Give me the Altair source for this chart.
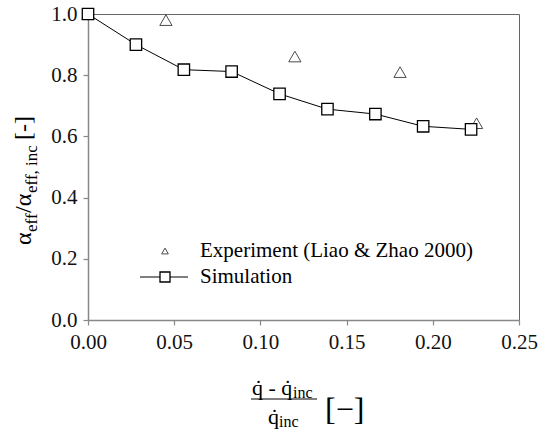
import altair as alt
import pandas as pd

# Simulation series
sim_x = [0.0, 0.0278, 0.0556, 0.0833, 0.1111, 0.1389, 0.1667, 0.1944, 0.2222]
sim_y = [1.0, 0.900, 0.818, 0.812, 0.739, 0.689, 0.673, 0.633, 0.623]
# Experiment (Liao & Zhao 2000)
exp_x = [0.0, 0.0452, 0.1200, 0.1810, 0.2254]
exp_y = [1.0, 0.980, 0.861, 0.810, 0.643]

x_ticks = [0.0, 0.05, 0.10, 0.15, 0.20, 0.25]
y_ticks = [0.0, 0.2, 0.4, 0.6, 0.8, 1.0]

FONT = "Times New Roman"
sim = pd.DataFrame({"x": sim_x, "y": sim_y})
exp = pd.DataFrame({"x": exp_x, "y": exp_y})
one = pd.DataFrame({"a": [0]})

xs = alt.Scale(domain=[0, 0.25], nice=False, zero=False)
ys = alt.Scale(domain=[0, 1.0], nice=False, zero=False)
axis_style = dict(
    title=None, grid=False, labelFont=FONT, labelFontSize=21, labelColor="#111",
    domainColor="#888", domainWidth=1.5, tickColor="#888", tickWidth=1.2,
    tickSize=5, labelPadding=6, labelFlush=False,
)
xax = alt.Axis(values=x_ticks, format=".2f", **axis_style)
yax = alt.Axis(values=y_ticks, format=".1f", **axis_style)

exp_pts = alt.Chart(exp).mark_point(
    shape="triangle-up", filled=False, stroke="black", strokeWidth=1, size=150
).encode(x=alt.X("x:Q", scale=xs, axis=xax), y=alt.Y("y:Q", scale=ys, axis=yax))

sim_line = alt.Chart(sim).mark_line(color="black", strokeWidth=1).encode(
    x=alt.X("x:Q", scale=xs), y=alt.Y("y:Q", scale=ys)
)
sim_pts = alt.Chart(sim).mark_point(
    shape="square", filled=True, fill="white", stroke="black", strokeWidth=1.3, size=130, opacity=1
).encode(x=alt.X("x:Q", scale=xs), y=alt.Y("y:Q", scale=ys))

def txt(s, x, y, size=20, angle=0, align="left", baseline="alphabetic"):
    kw = dict(font=FONT, fontSize=size, align=align, baseline=baseline)
    if angle:
        kw["angle"] = angle
    return alt.Chart(one).mark_text(**kw).encode(
        x=alt.value(x), y=alt.value(y), text=alt.value(s)
    )

# legend
leg_tri = alt.Chart(one).mark_point(
    shape="triangle-up", filled=False, stroke="black", strokeWidth=1, size=45
).encode(x=alt.value(77), y=alt.value(237))
leg_line = alt.Chart(one).mark_rule(color="black", strokeWidth=1).encode(
    x=alt.value(52), x2=alt.value(100), y=alt.value(263)
)
leg_sq = alt.Chart(one).mark_point(
    shape="square", filled=True, fill="white", stroke="black", strokeWidth=1.3, size=100, opacity=1
).encode(x=alt.value(77), y=alt.value(263))
leg_t1 = txt("Experiment (Liao & Zhao 2000)", 112, 237, 21, baseline="middle")
leg_t2 = txt("Simulation", 112, 263, 21, baseline="middle")

# y title (rotated, with subscripts)
yb = -57
ys0 = 231
ytitle = [
    txt("α", yb, ys0, 24, 270),
    txt("eff", yb + 6, ys0 - 13, 17, 270),
    txt("/α", yb, ys0 - 32, 24, 270),
    txt("eff, inc", yb + 6, ys0 - 52, 17, 270),
    txt("[-]", yb, ys0 - 105, 24, 270),
]

# x title (fraction)
xtitle = [
    txt("q\u0307 - q\u0307", 164, 381, 22),
    txt("inc", 205, 384, 16),
    alt.Chart(one).mark_rule(color="black", strokeWidth=1).encode(
        x=alt.value(163), x2=alt.value(229), y=alt.value(385)
    ),
    txt("q\u0307", 180, 410, 22),
    txt("inc", 191, 413, 16),
    txt("[\u2212]", 237, 396, 32, baseline="middle"),
]

chart = alt.layer(
    exp_pts, sim_line, sim_pts, leg_tri, leg_line, leg_sq, leg_t1, leg_t2, *ytitle, *xtitle
).properties(
    width=431, height=306,
    autosize=alt.AutoSizeParams(type="none"),
    padding={"left": 88, "top": 14, "right": 26, "bottom": 113},
).configure(font=FONT).configure_view(stroke="#666", strokeWidth=1)

chart.save("out.html", embed_options={"renderer": "svg", "actions": False})
